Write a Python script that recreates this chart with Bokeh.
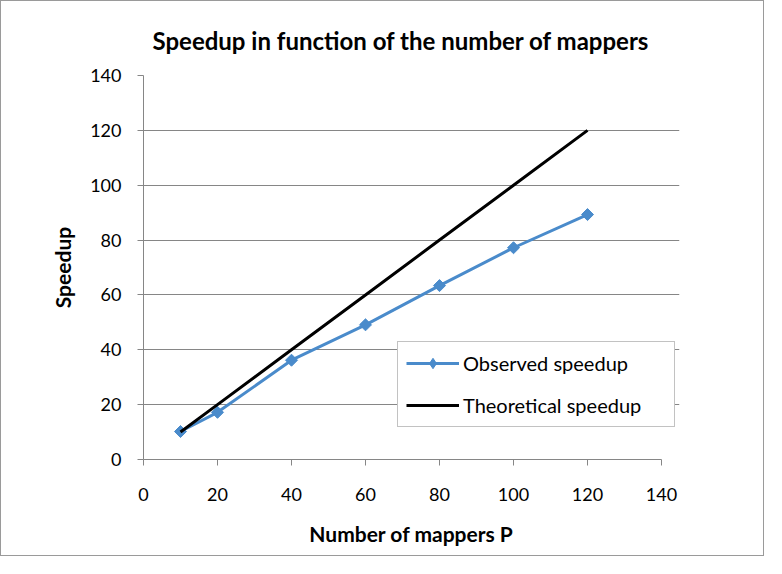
from bokeh.plotting import figure
from bokeh.models import FixedTicker, Legend, LegendItem, Range1d
from bokeh.embed import file_html
from bokeh.resources import INLINE
import numpy as np

mappers = [10, 20, 40, 60, 80, 100, 120]
observed = [10.2, 17.2, 36.2, 49.1, 63.4, 77.2, 89.3]
theoretical = [10, 20, 40, 60, 80, 100, 120]
ticks = [0, 20, 40, 60, 80, 100, 120, 140]

FONT = "Lato"
GRAY = "#868686"
BLUE = "#4a8bcb"

p = figure(width=764, height=556, output_backend="svg", toolbar_location=None,
           x_range=Range1d(0, 144.86), y_range=Range1d(0, 140),
           min_border_left=142, min_border_right=86, min_border_top=74,
           min_border_bottom=98,
           title="Speedup in function of the number of mappers")
p.outline_line_color = None
p.styles = {"border": "1px solid #9a9a9a"}

p.title.align = "left"
p.title.text_font = FONT
p.title.text_font_size = "24px"
p.title.text_font_style = "bold"
p.title.text_color = "black"
p.title.standoff = 42
p.title.offset = 9

for ax in (p.xaxis[0], p.yaxis[0]):
    ax.ticker = FixedTicker(ticks=ticks)
    ax.bounds = (0, 140)
    ax.axis_line_color = GRAY
    ax.major_tick_line_color = GRAY
    ax.minor_tick_line_color = None
    ax.major_tick_out = 6
    ax.major_tick_in = 0
    ax.major_label_text_font = FONT
    ax.major_label_text_font_size = "18px"
    ax.major_label_text_color = "black"
    ax.axis_label_text_font = FONT
    ax.axis_label_text_font_size = "21px"
    ax.axis_label_text_font_style = "bold"
    ax.axis_label_text_color = "black"

p.xaxis.axis_label = "Number of mappers P"
p.yaxis.axis_label = "Speedup"
p.xaxis.major_label_standoff = 22
p.yaxis.major_label_standoff = 16
p.xaxis.axis_label_standoff = 17
p.yaxis.axis_label_standoff = 12

p.xgrid.grid_line_color = None
p.ygrid.ticker = FixedTicker(ticks=ticks)
p.ygrid.bounds = (0, 140)
p.ygrid.grid_line_color = GRAY
p.ygrid.grid_line_width = 1

l_obs = p.line(mappers, observed, line_color=BLUE, line_width=3)
# legend key glyph (diamond), hidden under the first plotted marker
key_obs = p.scatter(mappers[:1], observed[:1], marker="diamond", size=10,
                    fill_color=BLUE, line_color=BLUE)
s_obs = p.scatter(mappers, observed, marker="square", angle=np.pi / 4, size=8.5,
                  fill_color=BLUE, line_color=BLUE)
l_th = p.line(mappers, theoretical, line_color="black", line_width=3)

legend = Legend(items=[LegendItem(label="Observed speedup", renderers=[l_obs, key_obs]),
                       LegendItem(label="Theoretical speedup", renderers=[l_th])],
                location=(254, 32), padding=8, spacing=16,
                glyph_width=53, glyph_height=26, label_height=26,
                label_standoff=4, label_width=203,
                label_text_font=FONT, label_text_font_size="20px",
                label_text_color="black",
                border_line_color=GRAY, border_line_width=1,
                background_fill_color="white", background_fill_alpha=1.0)
p.add_layout(legend, "center")

open("out.html", "w").write(file_html(p, INLINE))
